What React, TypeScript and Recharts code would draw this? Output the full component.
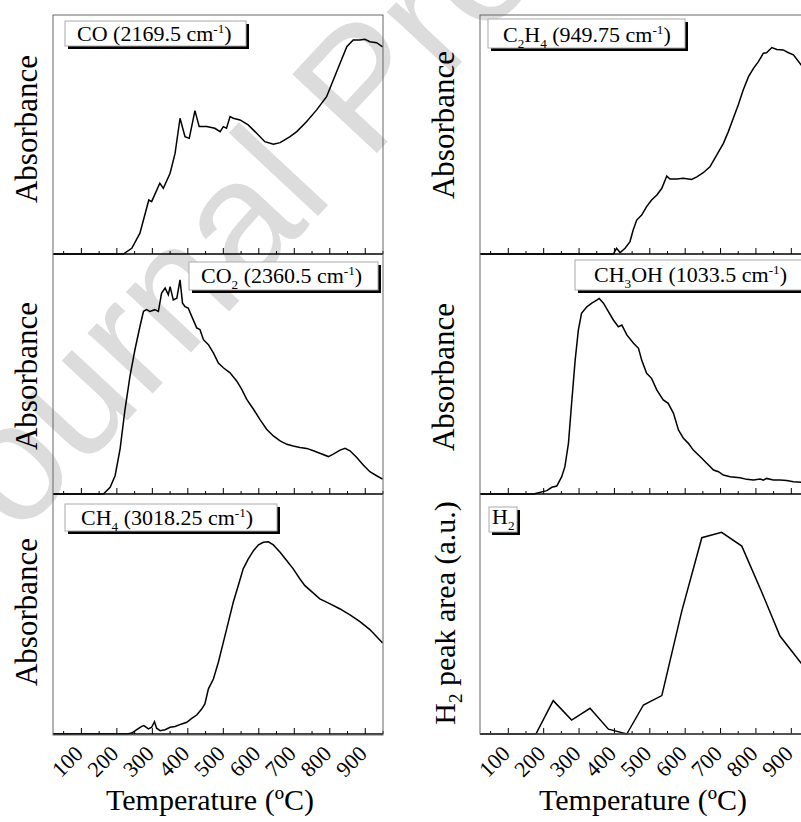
import React from "react";
import { LineChart, Line, XAxis, YAxis } from "recharts";

// CO (2169.5 cm-1)
const coTemp = [20, 218, 242, 265, 290, 298, 321, 331, 350, 364, 378, 392, 404, 420, 432, 453, 476, 491, 500, 509, 519, 528, 547, 570, 594, 617, 641, 660, 688, 707, 735, 763, 791, 810, 829, 848, 866, 885, 899, 913, 932, 949];
const coAbs = [0, 0, 2.4, 8.7, 22.6, 21.9, 29.6, 27.5, 33.8, 42.1, 56.8, 49.1, 48.4, 60, 53.3, 53.3, 52.6, 51.2, 53.3, 52.6, 57.5, 56.8, 56.1, 54, 50.5, 47, 45.9, 46.6, 49.1, 51.2, 55.4, 60.3, 65.8, 72.8, 79.8, 86.7, 89.5, 89.5, 89.8, 88.8, 88.4, 86.7];

// CO2 (2360.5 cm-1)
const co2Temp = [20, 162, 181, 195, 209, 223, 237, 251, 265, 275, 284, 293, 307, 317, 326, 336, 345, 350, 359, 369, 378, 385, 392, 401, 411, 425, 434, 444, 458, 472, 486, 500, 519, 538, 552, 566, 585, 603, 622, 641, 660, 679, 697, 716, 735, 754, 772, 796, 810, 829, 843, 857, 876, 895, 913, 932, 949];
const co2Abs = [0, 0, 2.8, 7.6, 18.7, 35.3, 49.1, 60.2, 69.8, 76.1, 76.8, 76.1, 76.8, 76.1, 83.7, 85.8, 83, 86.4, 80.9, 81.6, 89.2, 79.5, 78.1, 77.5, 74, 69.2, 68.5, 64.3, 62.2, 58.8, 54.6, 52.6, 50.5, 47, 43.6, 39.4, 35.3, 31.1, 27, 24.2, 22.1, 20.7, 20, 19.4, 19, 18, 17, 15.6, 16.6, 18.3, 19, 18, 15.2, 12, 9.3, 7.6, 6.2];

// CH4 (3018.25 cm-1)
const ch4Temp = [20, 228, 242, 256, 270, 276, 289, 298, 306, 312, 322, 336, 350, 364, 383, 397, 411, 425, 439, 448, 458, 472, 486, 500, 514, 528, 542, 556, 570, 585, 599, 613, 627, 641, 660, 679, 697, 716, 730, 749, 772, 801, 829, 857, 885, 913, 949];
const ch4Abs = [0, 0, 0.4, 1.8, 3.2, 3.5, 2.1, 2.8, 5.1, 2.4, 1.4, 1.8, 2.8, 3.1, 4.2, 4.9, 6.5, 7.9, 10.4, 12.5, 18.8, 22.9, 29.9, 38.2, 46.5, 54.9, 61.8, 68.8, 72.9, 76.4, 78.8, 79.9, 80.1, 78.8, 75.7, 72.2, 68.8, 64.6, 61.8, 59.3, 56.3, 54.2, 52.1, 49.6, 46.8, 43.5, 37.9];

// C2H4 (949.75 cm-1)
const c2h4Temp = [20, 397, 406, 416, 430, 444, 453, 463, 477, 491, 505, 520, 534, 548, 557, 576, 595, 618, 633, 651, 670, 689, 708, 722, 736, 750, 764, 779, 793, 807, 821, 830, 845, 859, 877, 892, 906, 928, 950];
const c2h4Abs = [0, 0, 2.4, 0.6, 2.4, 5.2, 10, 14.2, 16.3, 19.8, 22.6, 24.7, 27.5, 32.6, 31.4, 31.4, 31.7, 31.2, 32.3, 34, 36.5, 41.4, 46.3, 51.2, 56.8, 62.3, 68.6, 74.2, 77.7, 80.5, 84, 84.2, 86.4, 85.6, 85.4, 84.2, 83.3, 79.1, 75];

// CH3OH (1033.5 cm-1)
const meohTemp = [20, 171, 209, 223, 237, 251, 260, 270, 279, 289, 298, 307, 322, 336, 350, 357, 369, 383, 397, 411, 421, 435, 454, 468, 477, 491, 505, 520, 538, 552, 567, 581, 595, 609, 623, 642, 661, 680, 694, 708, 727, 755, 774, 793, 812, 821, 830, 849, 868, 887, 906, 928, 950];
const meohAbs = [0, 0, 1.4, 2.8, 3.3, 7.2, 11.4, 21.1, 37.8, 55.8, 68.3, 75.3, 78, 79.5, 80.8, 81.5, 79.5, 76, 72.5, 69.7, 70.4, 66.3, 62.8, 60.7, 55.8, 50.3, 48.2, 43.3, 39.2, 37.8, 33.6, 26.7, 23.2, 21.1, 18.3, 15.6, 12.8, 10, 9.3, 7.9, 7.2, 6.8, 6.1, 5.8, 6.2, 5.8, 6.5, 5.8, 5.8, 5.6, 5.1, 4.9, 4.8];

// H2 peak area
const h2Temp = [20, 178, 227, 279, 331, 383, 435, 482, 534, 590, 647, 703, 760, 816, 868, 928, 950];
const h2Area = [0, 0, 13.9, 5.8, 10.7, 2, 0, 12.1, 16, 51, 81.8, 84, 78.3, 59.3, 40.8, 29.5, 26];

const tempTicks = [50, 100, 150, 200, 250, 300, 350, 400, 450, 500, 550, 600, 650, 700, 750, 800, 850, 900, 950];

const serif = "'Liberation Serif', 'Times New Roman', serif";

const zip = (t: number[], v: number[]) => t.map((x, i) => ({ t: x, v: v[i] }));

function TempTick(props: any) {
  const { x, y, payload, showLabel } = props;
  const v = payload.value;
  const major = v % 100 === 0;
  const lx = x + 3;
  const ly = y + 21;
  return (
    <g>
      <line x1={x} x2={x} y1={y} y2={y - (major ? 6 : 3)} stroke="#000" strokeWidth={1} />
      {showLabel && major && (
        <text x={lx} y={ly} transform={`rotate(-45 ${lx} ${ly})`} textAnchor="end"
          style={{ fontSize: 22 }} fontFamily={serif} fill="#000">{v}</text>
      )}
    </g>
  );
}

const PAD = 30;

function Panel({ left, top, width, height, data, bottom }: any) {
  return (
    <div style={{ position: "absolute", left: left - PAD, top }}>
      <LineChart width={width + PAD + 10} height={height + 70} data={data}
        margin={{ top: 0, right: 10, bottom: 0, left: PAD }}>
        <XAxis dataKey="t" type="number" domain={[20, 950]} ticks={tempTicks} interval={0}
          height={70} tickSize={0} tickMargin={0} tickLine={false}
          axisLine={{ stroke: "#000", strokeWidth: 1.3 }}
          tick={(p: any) => <TempTick {...p} showLabel={bottom} />} />
        <YAxis hide domain={[0, 100]} />
        <Line type="linear" dataKey="v" stroke="#000" strokeWidth={1.5} dot={false} isAnimationActive={false} />
      </LineChart>
    </div>
  );
}

type Seg = [string, "n" | "sub" | "sup"];

function Rich({ x, y, size, segs }: { x: number; y: number; size: number; segs: Seg[] }) {
  let shift = 0;
  return (
    <text x={x} y={y} fontSize={size} fontFamily={serif} fill="#000">
      {segs.map(([s, k], i) => {
        const target = k === "sub" ? size * 0.25 : k === "sup" ? -size * 0.38 : 0;
        const dy = target - shift;
        shift = target;
        return (
          <tspan key={i} dy={dy} fontSize={k === "n" ? size : size * 0.6}>{s}</tspan>
        );
      })}
    </text>
  );
}

function LabelBox({ x, y, w, h, children }: any) {
  return (
    <g>
      <rect x={x + 3} y={y + 3} width={w} height={h} fill="#000" />
      <rect x={x} y={y} width={w} height={h} fill="#fff" stroke="#aaa" strokeWidth={1} />
      {children}
    </g>
  );
}

function VTitle({ x, y, size, children }: any) {
  return (
    <text x={x} y={y} transform={`rotate(-90 ${x} ${y})`} textAnchor="middle" fontSize={size}
      fontFamily={serif} fill="#000">{children}</text>
  );
}

export default function App() {
  const L = { x: 53, w: 330 };
  const R = { x: 480, w: 329 };
  const rows = [
    { top: 15, h: 239 },
    { top: 254, h: 240 },
    { top: 494, h: 240 },
  ];
  return (
    <div style={{ position: "fixed", left: 0, top: 0, width: 801, height: 822, overflow: "hidden", background: "#fff" }}>
      <svg width={801} height={822} style={{ position: "absolute", left: 0, top: 0 }}>
        <text x={-40} y={600} transform="rotate(-47 -40 600)" fontSize={168}
          fontFamily="'Liberation Sans', Arial, sans-serif" fill="#dcdcdc">Journal Pre-proof</text>
      </svg>

      <Panel left={L.x} top={rows[0].top} width={L.w} height={rows[0].h} data={zip(coTemp, coAbs)} />
      <Panel left={L.x} top={rows[1].top} width={L.w} height={rows[1].h} data={zip(co2Temp, co2Abs)} />
      <Panel left={L.x} top={rows[2].top} width={L.w} height={rows[2].h} data={zip(ch4Temp, ch4Abs)} bottom />
      <Panel left={R.x} top={rows[0].top} width={R.w} height={rows[0].h} data={zip(c2h4Temp, c2h4Abs)} />
      <Panel left={R.x} top={rows[1].top} width={R.w} height={rows[1].h} data={zip(meohTemp, meohAbs)} />
      <Panel left={R.x} top={rows[2].top} width={R.w} height={rows[2].h} data={zip(h2Temp, h2Area)} bottom />

      <svg width={801} height={822} style={{ position: "absolute", left: 0, top: 0, pointerEvents: "none" }}>
        <rect x={L.x} y={15} width={L.w} height={720} fill="none" stroke="#666" strokeWidth={1} />
        <rect x={R.x} y={15} width={R.w} height={719} fill="none" stroke="#666" strokeWidth={1} />

        <LabelBox x={65} y={21} w={181} h={25}>
          <Rich x={77} y={41} size={22} segs={[["CO (2169.5 cm", "n"], ["-1", "sup"], [")", "n"]]} />
        </LabelBox>
        <LabelBox x={189} y={262} w={189} h={28}>
          <Rich x={201} y={283} size={22} segs={[["CO", "n"], ["2", "sub"], [" (2360.5 cm", "n"], ["-1", "sup"], [")", "n"]]} />
        </LabelBox>
        <LabelBox x={65} y={504} w={212} h={27}>
          <Rich x={81} y={525} size={22} segs={[["CH", "n"], ["4", "sub"], [" (3018.25 cm", "n"], ["-1", "sup"], [")", "n"]]} />
        </LabelBox>
        <LabelBox x={488} y={19} w={197} h={29}>
          <Rich x={503} y={42} size={22} segs={[["C", "n"], ["2", "sub"], ["H", "n"], ["4", "sub"], [" (949.75 cm", "n"], ["-1", "sup"], [")", "n"]]} />
        </LabelBox>
        <LabelBox x={575} y={260} w={250} h={30}>
          <Rich x={594} y={282} size={22} segs={[["CH", "n"], ["3", "sub"], ["OH (1033.5 cm", "n"], ["-1", "sup"], [")", "n"]]} />
        </LabelBox>
        <LabelBox x={489} y={507} w={28} h={25}>
          <Rich x={492} y={524} size={22} segs={[["H", "n"], ["2", "sub"]]} />
        </LabelBox>

        <VTitle x={37} y={129} size={31}>Absorbance</VTitle>
        <VTitle x={37} y={376} size={31}>Absorbance</VTitle>
        <VTitle x={37} y={612} size={31}>Absorbance</VTitle>
        <VTitle x={454} y={125} size={31}>Absorbance</VTitle>
        <VTitle x={454} y={377} size={31}>Absorbance</VTitle>
        <text x={455} y={613} transform="rotate(-90 455 613)" textAnchor="middle" fontSize={30} fontFamily={serif} fill="#000">
          H<tspan dy={7} fontSize={19}>2</tspan><tspan dy={-7}> peak area (a.u.)</tspan>
        </text>

        <text x={210} y={810} textAnchor="middle" fontSize={30} fontFamily={serif} fill="#000">Temperature (ºC)</text>
        <text x={643} y={810} textAnchor="middle" fontSize={30} fontFamily={serif} fill="#000">Temperature (ºC)</text>
      </svg>
    </div>
  );
}
